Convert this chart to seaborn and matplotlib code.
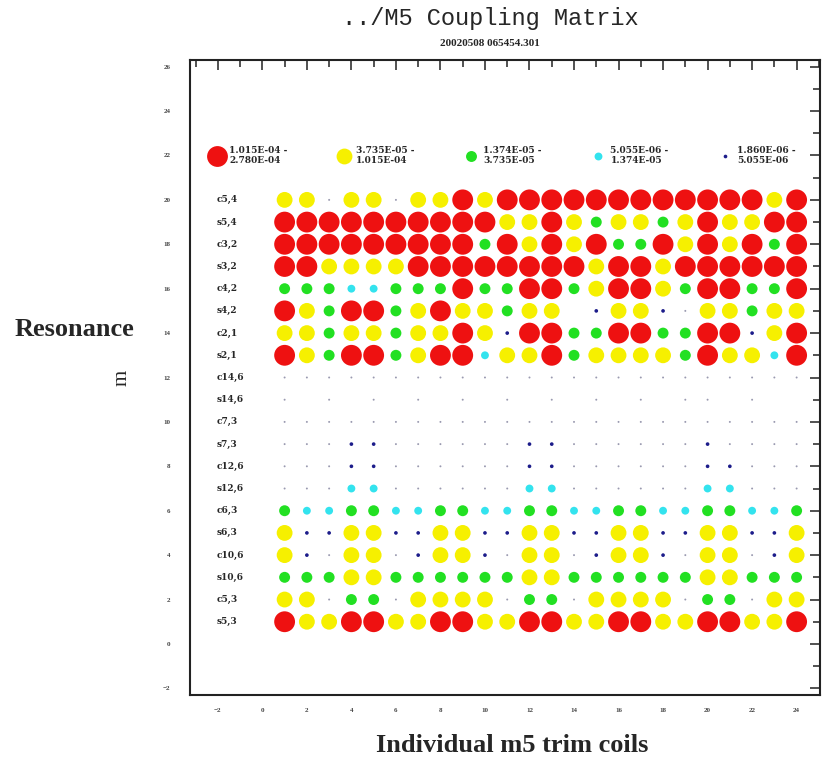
import matplotlib
matplotlib.use("Agg")
import matplotlib.pyplot as plt
from matplotlib.lines import Line2D
from matplotlib.ticker import MultipleLocator
import pandas as pd
import seaborn as sns

# resonance rows, top (m=20) to bottom (m=1)
resonances = ["c5,4", "s5,4", "c3,2", "s3,2", "c4,2", "s4,2", "c2,1", "s2,1",
              "c14,6", "s14,6", "c7,3", "s7,3", "c12,6", "s12,6", "c6,3", "s6,3",
              "c10,6", "s10,6", "c5,3", "s5,3"]
m_values = list(range(20, 0, -1))
coils = list(range(1, 25))

# coupling level of each trim coil
# R > Y > G > C > N > T (below 1.86E-06), '.' nothing drawn
levels = [
    "YYTYYTYYRYRRRRRRRRRRRRYR",
    "RRRRRRRRRRYYRYGYYGYRYYRR",
    "RRRRRRRRRGRYRYRGGRYRYRGR",
    "RRYYYYRRRRRRRRYRRYRRRRRR",
    "GGGCCGGGRGGRRGYRRYGRRGGR",
    "RYGRRGYRYYGYY.NYYNTYYGYY",
    "YYGYYGYYRYNRRGGRRGGRRNYR",
    "RYGRRGYRRCYYRGYYYYGRYYCR",
    "TTTTTTTTTTTTTTTTTTTTTTTT",
    "T.T.T.T.T.T.T.T.T.TT.T..",
    "TTTTTTTTTTTTTTTTTTTTTTTT",
    "TTTNNTTTTTTNNTTTTTTNTTTT",
    "TTTNNTTTTTTNNTTTTTTNNTTT",
    "TTTCCTTTTTTCCTTTTTTCCTTT",
    "GCCGGCCGGCCGGCCGGCCGGCCG",
    "YNNYYNNYYNNYYNNYYNNYYNNY",
    "YNTYYTNYYNTYYTNYYNTYYTNY",
    "GGGYYGGGGGGYYGGGGGGYYGGG",
    "YYTGGTYYYYTGGTYYYYTGGTYY",
    "RYYRRYYRRYYRRYYRRYYRRYYR",
]

level_codes = ["R", "Y", "G", "C", "N", "T"]
level_labels = ["1.015E-04 -\n2.780E-04", "3.735E-05 -\n1.015E-04",
                "1.374E-05 -\n3.735E-05", "5.055E-06 -\n1.374E-05",
                "1.860E-06 -\n5.055E-06", "< 1.860E-06"]
level_colors = ["#ee1111", "#f6f000", "#22e022", "#33e3ee", "#1c1c8a", "#9a9ab0"]
level_sizes = [225, 130, 62, 32, 7, 2]

palette = dict(zip(level_codes, level_colors))
sizes = dict(zip(level_codes, level_sizes))

recs = []
for m, row in zip(m_values, levels):
    for coil, code in zip(coils, row):
        if code != ".":
            recs.append({"coil": coil, "m": m, "level": code})
df = pd.DataFrame(recs)

sns.set_style("white")
plt.rcParams["font.family"] = ["Liberation Serif", "DejaVu Serif"]

fig = plt.figure(figsize=(8.24, 7.65), dpi=100)
ax = fig.add_axes([190 / 824, 1 - 695 / 765, 630 / 824, 635 / 765])

sns.scatterplot(data=df, x="coil", y="m", hue="level", size="level",
                palette=palette, sizes=sizes, hue_order=level_codes,
                size_order=level_codes, linewidth=0, legend=False, ax=ax)

for m, name in zip(m_values, resonances):
    ax.text(-2.05, m, name, ha="left", va="center", fontsize=6.5,
            fontweight="bold", family="DejaVu Serif")

ax.set_xlim(-3.25, 25.05)
ax.set_ylim(-2.3, 26.3)
ax.xaxis.set_major_locator(MultipleLocator(2))
ax.xaxis.set_minor_locator(MultipleLocator(1))
ax.yaxis.set_major_locator(MultipleLocator(2))
ax.yaxis.set_minor_locator(MultipleLocator(1))
ax.tick_params(which="both", direction="in", top=True, right=True,
               colors="#222222", labelcolor="#444444")
ax.tick_params(which="major", length=7, width=1.1, labelsize=5)
ax.tick_params(which="minor", length=5, width=1.1)
ax.tick_params(axis="y", pad=14)
ax.tick_params(axis="x", pad=9)
for lab in ax.get_xticklabels() + ax.get_yticklabels():
    lab.set_fontweight("bold")
for sp in ax.spines.values():
    sp.set_color("#222222")
    sp.set_linewidth(1.5)
ax.set_xlabel("")
ax.set_ylabel("")

handles = [Line2D([], [], linestyle="none", marker="o", markeredgewidth=0,
                  color=c, markersize=s ** 0.5)
           for c, s in zip(level_colors[:5], level_sizes[:5])]
leg = ax.legend(handles, level_labels[:5], ncol=5, loc="center left",
                bbox_to_anchor=(0.015, (22 + 2.3) / 28.6), frameon=False,
                handlelength=2.0, handletextpad=0.4, columnspacing=5.2,
                prop={"weight": "bold", "size": 6.5, "family": "DejaVu Serif"})
for t in leg.get_texts():
    t.set_multialignment("left")

fig.text(490 / 824, 1 - 19 / 765, "../M5 Coupling Matrix", ha="center",
         va="center", fontsize=17, family="Liberation Mono")
fig.text(490 / 824, 1 - 44 / 765, "20020508 065454.301", ha="center",
         va="center", fontsize=8, fontweight="bold")
fig.text(74 / 824, 1 - 330 / 765, "Resonance", ha="center", va="center",
         fontsize=19, fontweight="bold")
fig.text(122 / 824, 1 - 378 / 765, "m", ha="center", va="center",
         fontsize=15, rotation=90)
fig.text(512 / 824, 1 - 745 / 765, "Individual m5 trim coils", ha="center",
         va="center", fontsize=19, fontweight="bold")

fig.savefig("out.png", dpi=100)
